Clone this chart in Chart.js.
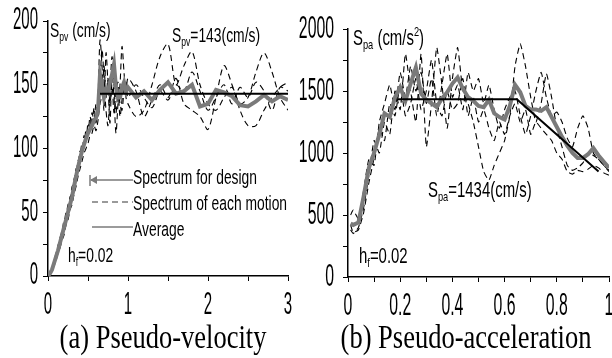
<!DOCTYPE html>
<html><head><meta charset="utf-8">
<script src="https://cdn.jsdelivr.net/npm/chart.js@4.4.1/dist/chart.umd.min.js"></script>
<style>
html,body{margin:0;padding:0;background:#fff;}
#wrap{position:relative;width:612px;height:358px;overflow:hidden;background:#fff;}
canvas{position:absolute;top:0;}
#ca{left:0}#cb{left:290px}
</style></head><body>
<div id="wrap"><canvas id="ca" width="306" height="358"></canvas><canvas id="cb" width="322" height="358"></canvas></div>
<script>
// ---------- (a) Pseudo-velocity ----------
const periodsA = [0,0.025,0.05,0.075,0.1,0.125,0.15,0.175,0.2,0.225,0.25,0.275,0.3,0.325,0.35,0.375,0.4,0.425,0.45,0.475,0.5,0.525,0.55,0.575,0.6,0.625,0.65,0.675,0.7,0.725,0.75,0.775,0.8,0.825,0.85,0.875,0.9,0.925,0.95,0.975,1.0,1.1,1.2,1.3,1.4,1.5,1.6,1.7,1.8,1.9,2.0,2.1,2.2,2.3,2.4,2.5,2.6,2.7,2.8,2.9,3.0];
const avgA = [0,2,5,10,15,20,26,32,38,44,50,56,62,70,78,85,92,98,103,108,112,115,118,122,124,130,158,150,140,146,144,152,158,166,148,140,140,148,152,145,148,140,145,138,146,152,143,145,150,133,135,146,144,141,134,133,137,142,137,141,138];
const motion1A = [0,2,6,12,16,24,28,36,40,50,52,62,64,76,80,90,94,104,102,115,112,125,118,132,120,140,185,165,130,175,150,120,160,140,112,135,150,180,160,140,135,125,130,150,172,182,150,165,176,150,135,130,140,148,135,140,160,175,160,140,130];
const motion2A = [0,3,7,10,18,20,30,34,44,46,56,58,70,72,84,86,98,96,110,105,120,115,128,122,135,125,150,178,155,130,118,145,172,150,128,145,125,138,150,142,155,145,125,138,150,140,155,135,130,125,115,140,165,150,130,118,118,130,140,148,152];
const motion3A = [0,1,4,8,12,18,22,28,32,40,44,52,56,64,70,78,84,90,96,100,104,110,112,118,114,122,135,142,165,140,155,135,150,128,145,152,135,130,145,152,140,150,140,132,145,138,150,145,160,145,130,140,150,135,148,140,152,145,130,148,145];
const designPeriodsA = [0.65,3.0];
const designA = [143,143];
const yTicksA = [0,50,100,150,200];
const xTicksA = [0,1,2,3];

// ---------- (b) Pseudo-acceleration ----------
const periodsB = [0.01,0.02,0.04,0.06,0.08,0.10,0.12,0.14,0.16,0.18,0.20,0.22,0.24,0.26,0.28,0.30,0.32,0.34,0.36,0.38,0.40,0.42,0.44,0.46,0.48,0.50,0.52,0.54,0.56,0.58,0.60,0.62,0.64,0.66,0.68,0.70,0.72,0.74,0.76,0.78,0.80,0.82,0.84,0.86,0.88,0.90,0.92,0.94,0.96,0.98,1.00];
const avgB = [430,420,440,650,880,1000,1150,1320,1290,1450,1530,1420,1560,1690,1480,1430,1400,1370,1440,1490,1560,1610,1520,1450,1420,1380,1370,1430,1320,1290,1270,1380,1550,1490,1380,1350,1350,1340,1370,1290,1210,1130,1060,1000,960,960,990,1040,980,930,880];
const motion1B = [380,350,400,560,820,1100,1000,1250,1150,1500,1350,1800,1500,1250,1800,1050,1400,1850,1550,1200,1600,1850,1500,1400,1250,1050,850,780,900,1000,1100,1300,1700,1880,1700,1450,1250,1400,1640,1450,1200,1050,900,860,880,920,1000,980,950,900,850];
const motion2B = [500,540,470,700,950,900,1250,1400,1550,1350,1650,1450,1700,1500,1650,1400,1600,1300,1550,1800,1450,1550,1350,1650,1500,1600,1400,1550,1350,1200,1350,1450,1500,1300,1150,1300,1500,1650,1450,1300,1330,1250,1120,1050,1200,1300,1200,1000,950,900,860];
const motion3B = [420,360,380,520,760,960,1200,1100,1400,1300,1550,1300,1400,1600,1350,1500,1750,1400,1300,1500,1350,1400,1600,1300,1450,1250,1350,1200,1100,1250,1150,1300,1400,1250,1350,1150,1250,1200,1150,1100,1000,950,850,830,860,850,870,900,880,840,820];
const designPeriodsB = [0.19,0.647,0.96];
const designB = [1434,1434,850];
const yTicksB = [0,500,1000,1500,2000];
const xTicksB = ['0','0.2','0.4','0.6','0.8','1'];

const SANS = '"Liberation Sans", Arial, sans-serif';
const SERIF = '"Liberation Serif", "Times New Roman", serif';
const GRAY = '#7a7a7a';

function txt(ctx, s, x, y, o) {
  ctx.save();
  ctx.translate(x, y);
  ctx.scale(o.sx || 1, o.sy || 1);
  ctx.font = o.size + 'px ' + (o.family || SANS);
  ctx.textAlign = o.align || 'left';
  ctx.textBaseline = o.base || 'alphabetic';
  ctx.fillStyle = '#000';
  ctx.fillText(s, 0, 0);
  ctx.restore();
}
function rich(ctx, parts, x, y, o) {
  ctx.save();
  ctx.translate(x, y);
  ctx.scale(o.sx, o.sy);
  let cx = 0;
  for (const [t, m] of parts) {
    const sz = m ? o.size * 0.62 : o.size;
    ctx.font = sz + 'px ' + SANS;
    ctx.textAlign = 'left'; ctx.textBaseline = 'alphabetic'; ctx.fillStyle = '#000';
    const dy = m === 1 ? o.size * 0.2 : (m === 2 ? -o.size * 0.42 : 0);
    ctx.fillText(t, cx, dy);
    cx += ctx.measureText(t).width;
  }
  ctx.restore();
}
const mk = (xs, ys) => xs.map((x, i) => ({x: x, y: ys[i]}));

function dsets(periods, avg, motions, dPer, dVal, tension) {
  const out = [
    {label: 'Spectrum for design', data: mk(dPer, dVal), borderColor: '#000', borderWidth: 2, order: 0},
    {label: 'Average', data: mk(periods, avg), borderColor: GRAY, borderWidth: 4, order: 1}
  ];
  motions.forEach((m, i) => out.push({label: 'Spectrum of each motion ' + (i + 1), data: mk(periods, m),
    borderColor: '#000', borderWidth: 1.1, borderDash: [6, 4], tension: tension, order: 2}));
  out.forEach(d => { d.pointRadius = 0; d.fill = false; });
  return out;
}
function axis(min, max, step, fitFn) {
  return {type: 'linear', min: min, max: max,
    ticks: {display: false, stepSize: step},
    grid: {drawOnChartArea: false, drawTicks: true, tickLength: 5, color: '#000', lineWidth: 1},
    border: {display: true, color: '#000', width: 1.5},
    afterFit: fitFn};
}

const decoA = {
  id: 'decoA',
  afterDraw(chart) {
    const ctx = chart.ctx, xs = chart.scales.x, ys = chart.scales.y;
    const T = {size: 20, sx: 0.75, sy: 1.54};
    yTicksA.forEach(v => txt(ctx, String(v), 38, ys.getPixelForValue(v), Object.assign({align: 'right', base: 'middle'}, T)));
    xTicksA.forEach(v => txt(ctx, String(v), xs.getPixelForValue(v), 306, Object.assign({align: 'center', base: 'middle'}, T)));
    const L = {size: 18, sx: 0.77, sy: 1.16};
    rich(ctx, [['S', 0], ['pv', 1], [' (cm/s)', 0]], 50, 37, L);
    rich(ctx, [['S', 0], ['pv', 1], ['=143(cm/s)', 0]], 172, 42, L);
    rich(ctx, [['h', 0], ['f', 1], ['=0.02', 0]], 68, 262, L);
    // legend
    ctx.save();
    ctx.strokeStyle = GRAY; ctx.fillStyle = GRAY; ctx.lineWidth = 1.5;
    ctx.beginPath(); ctx.moveTo(91, 180); ctx.lineTo(133, 180); ctx.stroke();
    ctx.beginPath(); ctx.moveTo(90, 180); ctx.lineTo(97, 176); ctx.lineTo(97, 184); ctx.closePath(); ctx.fill();
    ctx.beginPath(); ctx.moveTo(90, 175); ctx.lineTo(90, 186); ctx.stroke();
    ctx.setLineDash([6, 4]);
    ctx.beginPath(); ctx.moveTo(92, 202); ctx.lineTo(133, 202); ctx.stroke();
    ctx.setLineDash([]);
    ctx.beginPath(); ctx.moveTo(92, 227); ctx.lineTo(133, 227); ctx.stroke();
    ctx.restore();
    txt(ctx, 'Spectrum for design', 133, 184, L);
    txt(ctx, 'Spectrum of each motion', 133, 210, L);
    txt(ctx, 'Average', 133, 236, L);
    txt(ctx, '(a) Pseudo-velocity', 163, 348, {size: 26.5, family: SERIF, sx: 1, sy: 1.25, align: 'center'});
  }
};

const decoB = {
  id: 'decoB',
  afterDraw(chart) {
    const ctx = chart.ctx, xs = chart.scales.x, ys = chart.scales.y;
    const T = {size: 20, sx: 0.79, sy: 1.56};
    yTicksB.forEach(v => txt(ctx, String(v), 44, ys.getPixelForValue(v), Object.assign({align: 'right', base: 'middle'}, T)));
    xTicksB.forEach(v => txt(ctx, v, xs.getPixelForValue(parseFloat(v)), 306, Object.assign({align: 'center', base: 'middle'}, T)));
    const L = {size: 18, sx: 0.83, sy: 1.18};
    rich(ctx, [['S', 0], ['pa', 1], [' (cm/s', 0], ['2', 2], [')', 0]], 63, 45, L);
    rich(ctx, [['S', 0], ['pa', 1], ['=1434(cm/s)', 0]], 138, 197, L);
    rich(ctx, [['h', 0], ['f', 1], ['=0.02', 0]], 69, 263, L);
    txt(ctx, '(b) Pseudo-acceleration', 176, 348, {size: 26.5, family: SERIF, sx: 1, sy: 1.25, align: 'center'});
  }
};

const base = {
  responsive: false, animation: false, devicePixelRatio: 1,
  plugins: {legend: {display: false}, tooltip: {enabled: false}},
  elements: {line: {borderCapStyle: 'butt'}}
};

new Chart(document.getElementById('ca'), {
  type: 'line',
  data: {datasets: dsets(periodsA, avgA, [motion1A, motion2A, motion3A], designPeriodsA, designA, 0.3)},
  options: Object.assign({}, base, {
    layout: {padding: {left: 0, right: 18, top: 21, bottom: 0}},
    scales: {
      x: axis(0, 3, 0.5, s => { s.height = 82; }),
      y: axis(0, 200, 25, s => { s.width = 48; })
    }
  }),
  plugins: [decoA]
});

new Chart(document.getElementById('cb'), {
  type: 'line',
  data: {datasets: dsets(periodsB, avgB, [motion1B, motion2B, motion3B], designPeriodsB, designB, 0.15)},
  options: Object.assign({}, base, {
    layout: {padding: {left: 0, right: 3, top: 29, bottom: 0}},
    scales: {
      x: axis(0, 1, 0.1, s => { s.height = 81; }),
      y: axis(0, 2000, 250, s => { s.width = 58; })
    }
  }),
  plugins: [decoB]
});
</script>
</body></html>
